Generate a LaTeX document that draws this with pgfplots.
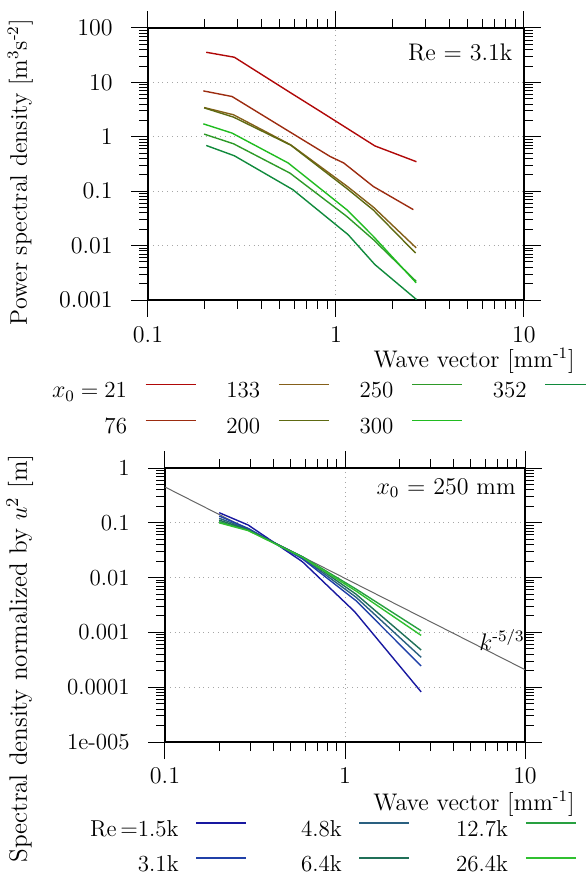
\documentclass[border=0pt]{standalone}
\usepackage{pgfplots}
\pgfplotsset{compat=1.18}
\definecolor{c21}{HTML}{B00808}
\definecolor{c76}{HTML}{9C2C10}
\definecolor{c133}{HTML}{85601A}
\definecolor{c200}{HTML}{5E6A12}
\definecolor{c250}{HTML}{2E9A28}
\definecolor{c300}{HTML}{20BC20}
\definecolor{c352}{HTML}{108A3C}
\definecolor{r15}{HTML}{1818A0}
\definecolor{r31}{HTML}{2040A8}
\definecolor{r48}{HTML}{2A6080}
\definecolor{r64}{HTML}{207058}
\definecolor{r127}{HTML}{28A040}
\definecolor{r264}{HTML}{30C030}
\begin{document}
\fontsize{12}{14}\selectfont
\begin{tikzpicture}
\useasboundingbox (0,0) rectangle (292.5pt,437pt);
% ---------------- top panel ----------------
\begin{axis}[
  xmode=log, ymode=log,
  scale only axis,
  at={(74pt,287pt)}, anchor=south west,
  width=188pt, height=136pt,
  xmin=0.1, xmax=10,
  ymin=0.001, ymax=100,
  log ticks with fixed point,
  tick align=outside,
  major tick length=8.5pt,
  minor tick length=4.5pt,
  axis line style={line width=0.6pt},
  every tick/.style={black, line width=0.5pt},
  grid=major,
  major grid style={dotted, gray!70, line width=0.5pt},
  tick label style={font=\fontsize{11.5}{13}\selectfont},
  yticklabel style={xshift=-5pt},
  xticklabel style={inner sep=1pt, yshift=-3.8pt},
  label style={font=\fontsize{12}{14}\selectfont},
  legend plot pos=right,
  legend cell align=right,
  legend image code/.code={\draw[#1] (0pt,3.5pt) -- (25pt,3.5pt);},
  xlabel={Wave vector [mm\textsuperscript{-1}]},
  xlabel style={at={(axis description cs:1.136,-0.222)}, anchor=east, inner sep=0pt},
  ylabel={Power spectral density [m\textsuperscript{3}s\textsuperscript{-2}]},
  ylabel style={at={(axis description cs:-0.34,0.47)}, anchor=center},
  legend columns=4,
  legend style={at={(axis description cs:-0.255,-0.30)}, anchor=north west,
    draw=none, fill=none, inner sep=0pt, outer sep=0pt,
    row sep=8pt, column sep=0pt,
    font=\fontsize{11.5}{14}\selectfont,
    nodes={inner sep=0pt, text height=8pt, text depth=2pt},
    /tikz/every odd column/.append style={column sep=9pt},
    /tikz/every even column/.append style={column sep=15pt}},
]
\addplot[c21, line width=0.7pt] coordinates {(0.204,35.8) (0.288,29.0) (0.575,6.4) (0.82,2.97) (1.15,1.42) (1.61,0.68) (2.68,0.348)};
\addlegendentry{$x_0$\hspace{3pt}=\hspace{3pt}21}
\addplot[c133, line width=0.7pt] coordinates {(0.199,3.45) (0.285,2.54) (0.575,0.71) (1.15,0.122) (1.58,0.051) (2.67,0.0091)};
\addlegendentry{133}
\addplot[c250, line width=0.7pt] coordinates {(0.199,1.12) (0.285,0.745) (0.569,0.215) (1.14,0.0345) (1.58,0.0129) (2.67,0.0022)};
\addlegendentry{250}
\addplot[c352, line width=0.7pt] coordinates {(0.204,0.693) (0.288,0.448) (0.589,0.107) (1.16,0.0159) (1.61,0.00448) (2.68,0.00102)};
\addlegendentry{352}
\addplot[c76, line width=0.7pt] coordinates {(0.197,6.98) (0.28,5.5) (0.575,1.2) (0.93,0.435) (1.1,0.33) (1.58,0.122) (2.58,0.0458)};
\addlegendentry{76}
\addplot[c200, line width=0.7pt] coordinates {(0.199,3.4) (0.285,2.30) (0.575,0.70) (1.15,0.11) (1.58,0.045) (2.65,0.0073)};
\addlegendentry{200}
\addplot[c300, line width=0.7pt] coordinates {(0.197,1.73) (0.28,1.17) (0.557,0.33) (1.14,0.0458) (1.58,0.0148) (2.67,0.00207)};
\addlegendentry{300}
\node[anchor=east, inner sep=0pt, font=\fontsize{12}{14}\selectfont] at (axis description cs:0.97,0.912) {Re = 3.1k};
\end{axis}
% ---------------- bottom panel ----------------
\begin{axis}[
  xmode=log, ymode=log,
  scale only axis,
  at={(82.5pt,66pt)}, anchor=south west,
  width=180pt, height=137pt,
  xmin=0.1, xmax=10,
  ymin=1e-5, ymax=1,
  log ticks with fixed point,
  ytick={1e-5,1e-4,1e-3,1e-2,1e-1,1},
  yticklabels={1e-005,0.0001,0.001,0.01,0.1,1},
  tick align=outside,
  major tick length=8.5pt,
  minor tick length=4.5pt,
  axis line style={line width=0.6pt},
  every tick/.style={black, line width=0.5pt},
  grid=major,
  major grid style={dotted, gray!70, line width=0.5pt},
  tick label style={font=\fontsize{11.5}{13}\selectfont},
  yticklabel style={xshift=-5pt},
  xticklabel style={inner sep=1pt, yshift=-3.3pt},
  label style={font=\fontsize{12}{14}\selectfont},
  legend plot pos=right,
  legend cell align=right,
  legend image code/.code={\draw[#1] (0pt,3.5pt) -- (25pt,3.5pt);},
  xlabel={Wave vector [mm\textsuperscript{-1}]},
  xlabel style={at={(axis description cs:1.139,-0.226)}, anchor=east, inner sep=0pt},
  ylabel={Spectral density normalized by $u^2$ [m]},
  ylabel style={at={(axis description cs:-0.403,0.305)}, anchor=center, font=\fontsize{12.6}{14}\selectfont},
  legend columns=3,
  legend style={at={(axis description cs:-0.2083,-0.285)}, anchor=north west,
    draw=none, fill=none, inner sep=0pt, outer sep=0pt,
    row sep=7.5pt, column sep=0pt,
    font=\fontsize{11.5}{14}\selectfont,
    nodes={inner sep=0pt, text height=8pt, text depth=2pt},
    /tikz/every odd column/.append style={column sep=8.5pt},
    /tikz/column 2/.append style={column sep=27pt},
    /tikz/column 4/.append style={column sep=23pt}},
]
\addplot[gray!80!black, line width=0.5pt, forget plot] coordinates {(0.1,0.45) (10,0.000209)};
\addplot[r15, line width=0.7pt] coordinates {(0.2,0.153) (0.29,0.091) (0.58,0.0195) (1.13,0.0024) (2.65,0.000082)};
\addlegendentry{Re\,=1.5k}
\addplot[r48, line width=0.7pt] coordinates {(0.2,0.121) (0.29,0.077) (0.58,0.023) (1.15,0.0044) (2.65,0.000351)};
\addlegendentry{4.8k}
\addplot[r127, line width=0.7pt] coordinates {(0.2,0.105) (0.29,0.073) (0.58,0.024) (1.15,0.0062) (2.65,0.00107)};
\addlegendentry{12.7k}
\addplot[r31, line width=0.7pt] coordinates {(0.2,0.133) (0.29,0.079) (0.58,0.022) (1.15,0.0038) (2.65,0.000244)};
\addlegendentry{3.1k}
\addplot[r64, line width=0.7pt] coordinates {(0.2,0.112) (0.29,0.075) (0.58,0.024) (1.15,0.005) (2.65,0.000477)};
\addlegendentry{6.4k}
\addplot[r264, line width=0.7pt] coordinates {(0.2,0.100) (0.29,0.072) (0.58,0.0235) (1.15,0.0057) (2.65,0.00088)};
\addlegendentry{26.4k}
\node[anchor=east, inner sep=0pt, font=\fontsize{12}{14}\selectfont] at (axis description cs:0.975,0.927) {$x_0$ = 250 mm};
\node[anchor=east, inner sep=0pt, font=\fontsize{12}{14}\selectfont] at (axis description cs:1.0,0.372) {$k$\textsuperscript{-5/3}};
\end{axis}
\end{tikzpicture}
\end{document}
